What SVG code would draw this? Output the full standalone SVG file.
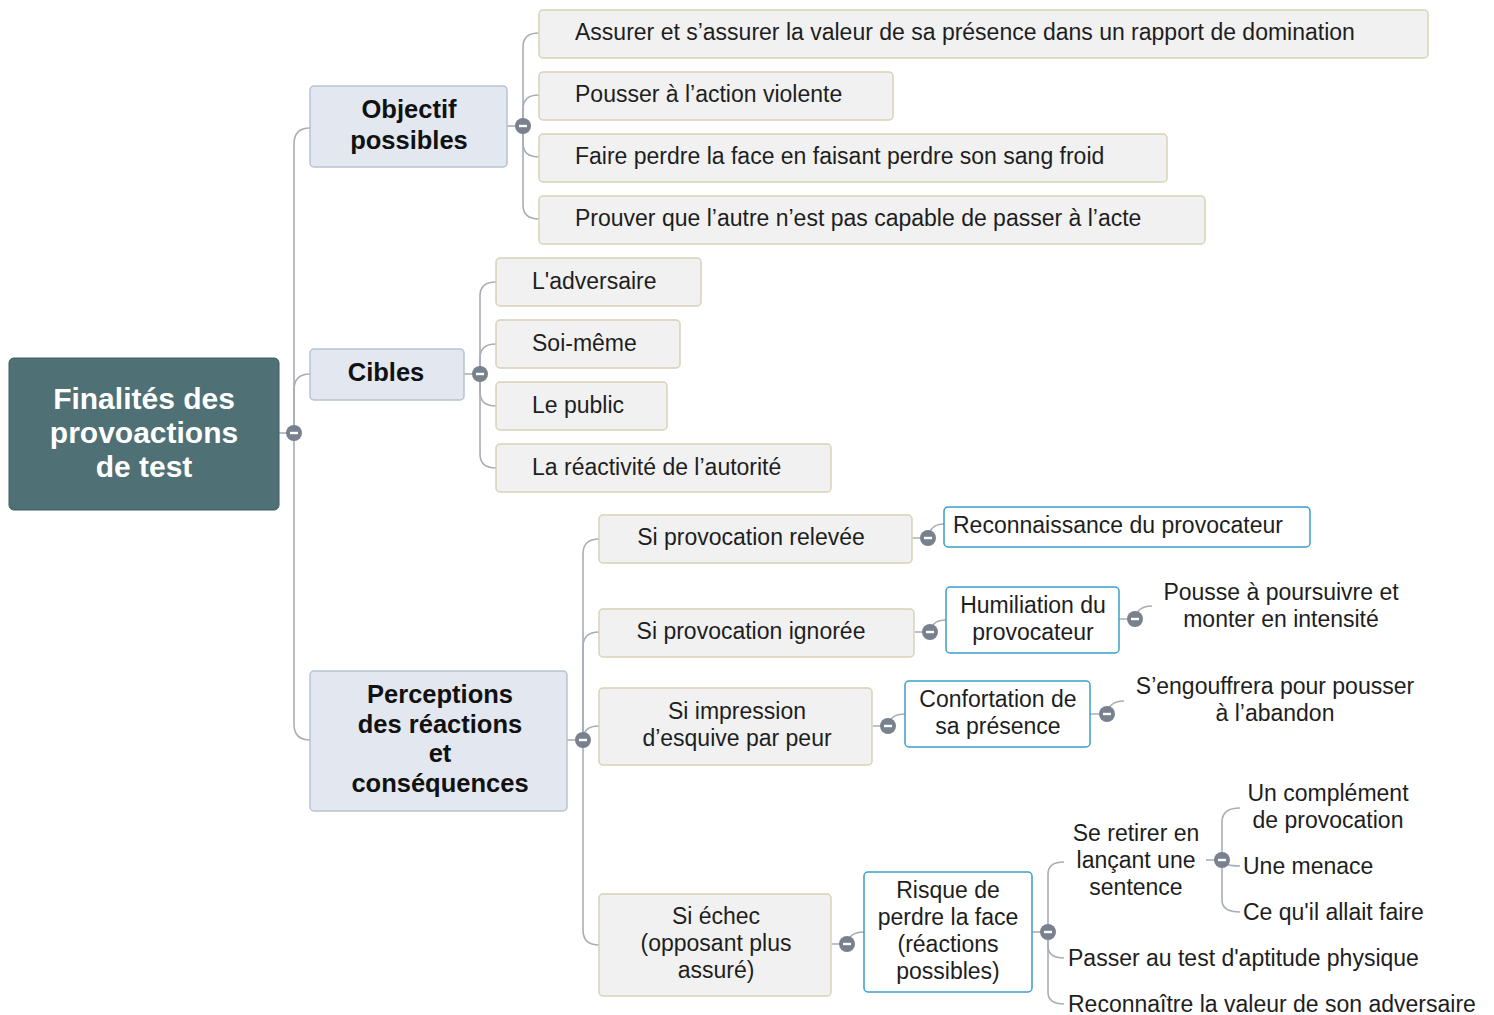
<svg xmlns="http://www.w3.org/2000/svg" width="1494" height="1015" viewBox="0 0 1494 1015">
<defs>
<style>
.root{fill:#4f7075;stroke:#3f5b60;stroke-width:1}
.main{fill:#e3e8f0;stroke:#b8c2cf;stroke-width:1.5}
.sub{fill:#f1f1f1;stroke:#d8d2b8;stroke-width:1.5}
.blue{fill:#ffffff;stroke:#3a9fc9;stroke-width:1.5}
.c{fill:none;stroke:#a9aeb6;stroke-width:1.6}
.t{font-family:"Liberation Sans",Arial,sans-serif;font-size:23px;fill:#1e1e1e}
.tm{font-family:"Liberation Sans",Arial,sans-serif;font-size:25.5px;font-weight:bold;fill:#111}
.tr{font-family:"Liberation Sans",Arial,sans-serif;font-size:30px;font-weight:bold;fill:#ffffff}
.mid{text-anchor:middle}
</style>
<g id="knob"><circle r="8" fill="#7a818e"/><rect x="-4" y="-1.2" width="8" height="2.4" fill="#ffffff"/></g>
</defs>
<rect width="1494" height="1015" fill="#ffffff"/>
<g id="connectors">
<path class="c" d="M279,433 H294"/>
<path class="c" d="M294,433 V144 Q294,128 310,128"/>
<path class="c" d="M294,433 V390 Q294,374 310,374"/>
<path class="c" d="M294,433 V724 Q294,740 310,740"/>
<path class="c" d="M507,126 H523"/>
<path class="c" d="M523,126 V47 Q523,33 539,33"/>
<path class="c" d="M523,126 V109 Q523,95 539,95"/>
<path class="c" d="M523,126 V143 Q523,157 539,157"/>
<path class="c" d="M523,126 V205 Q523,219 539,219"/>
<path class="c" d="M464,374 H480"/>
<path class="c" d="M480,374 V296 Q480,282 496,282"/>
<path class="c" d="M480,374 V358 Q480,344 496,344"/>
<path class="c" d="M480,374 V392 Q480,406 496,406"/>
<path class="c" d="M480,374 V454 Q480,468 496,468"/>
<path class="c" d="M567,740 H583"/>
<path class="c" d="M583,740 V554 Q583,539 599,539"/>
<path class="c" d="M583,740 V647 Q583,632 599,632"/>
<path class="c" d="M583,740 V740 Q583,726 599,726"/>
<path class="c" d="M583,740 V930 Q583,945 599,945"/>
<path class="c" d="M912,538 H928 Q930,524 944,524"/>
<path class="c" d="M915,632 H930 Q932,620 946,620"/>
<path class="c" d="M1119,619 H1135 Q1137,606 1152,606"/>
<path class="c" d="M873,726 H888 Q890,714 905,714"/>
<path class="c" d="M1090,714 H1107 Q1109,701 1124,701"/>
<path class="c" d="M832,944 H847 Q849,932 864,932"/>
<path class="c" d="M1032,932 H1048"/>
<path class="c" d="M1048,932 V874 Q1048,862 1064,862"/>
<path class="c" d="M1048,932 V946 Q1048,958 1064,958"/>
<path class="c" d="M1048,932 V992 Q1048,1004 1064,1004"/>
<path class="c" d="M1206,860 H1222"/>
<path class="c" d="M1222,860 V822 Q1222,808 1240,808"/>
<path class="c" d="M1222,860 Q1224,866 1240,866"/>
<path class="c" d="M1222,860 V900 Q1222,912 1240,912"/>
<use href="#knob" x="294" y="433"/>
<use href="#knob" x="523" y="126"/>
<use href="#knob" x="480" y="374"/>
<use href="#knob" x="583" y="740"/>
<use href="#knob" x="928" y="538"/>
<use href="#knob" x="930" y="632"/>
<use href="#knob" x="1135" y="619"/>
<use href="#knob" x="888" y="726"/>
<use href="#knob" x="1107" y="714"/>
<use href="#knob" x="847" y="944"/>
<use href="#knob" x="1048" y="932"/>
<use href="#knob" x="1222" y="860"/>
</g>
<g id="n-root"><rect class="root" x="9" y="358" width="270" height="152" rx="5"/>
<text class="tr mid" x="144" y="409">Finalités des</text><text class="tr mid" x="144" y="443">provoactions</text><text class="tr mid" x="144" y="477">de test</text></g>
<g id="n-objectif"><rect class="main" x="310" y="86" width="197" height="81" rx="4"/>
<text class="tm mid" x="409" y="118">Objectif</text><text class="tm mid" x="409" y="149">possibles</text></g>
<g id="n-o1"><rect class="sub" x="539" y="10" width="889" height="48" rx="4"/><text class="t" x="575" y="40">Assurer et s’assurer la valeur de sa présence dans un rapport de domination</text></g>
<g id="n-o2"><rect class="sub" x="539" y="72" width="354" height="48" rx="4"/><text class="t" x="575" y="102">Pousser à l’action violente</text></g>
<g id="n-o3"><rect class="sub" x="539" y="134" width="628" height="48" rx="4"/><text class="t" x="575" y="164">Faire perdre la face en faisant perdre son sang froid</text></g>
<g id="n-o4"><rect class="sub" x="539" y="196" width="666" height="48" rx="4"/><text class="t" x="575" y="226">Prouver que l’autre n’est pas capable de passer à l’acte</text></g>
<g id="n-cibles"><rect class="main" x="310" y="349" width="154" height="51" rx="4"/><text class="tm mid" x="386" y="381">Cibles</text></g>
<g id="n-c1"><rect class="sub" x="496" y="258" width="205" height="48" rx="4"/><text class="t" x="532" y="289">L'adversaire</text></g>
<g id="n-c2"><rect class="sub" x="496" y="320" width="184" height="48" rx="4"/><text class="t" x="532" y="351">Soi-même</text></g>
<g id="n-c3"><rect class="sub" x="496" y="382" width="171" height="48" rx="4"/><text class="t" x="532" y="413">Le public</text></g>
<g id="n-c4"><rect class="sub" x="496" y="444" width="335" height="48" rx="4"/><text class="t" x="532" y="475">La réactivité de l’autorité</text></g>
<g id="n-perc"><rect class="main" x="310" y="671" width="257" height="140" rx="4"/>
<text class="tm mid" x="440" y="703">Perceptions</text><text class="tm mid" x="440" y="733">des réactions</text><text class="tm mid" x="440" y="762">et</text><text class="tm mid" x="440" y="792">conséquences</text></g>
<g id="n-p1"><rect class="sub" x="599" y="515" width="313" height="48" rx="4"/><text class="t mid" x="751" y="545">Si provocation relevée</text></g>
<g id="n-p2"><rect class="sub" x="599" y="609" width="315" height="48" rx="4"/><text class="t mid" x="751" y="639">Si provocation ignorée</text></g>
<g id="n-p3"><rect class="sub" x="599" y="688" width="273" height="77" rx="4"/><text class="t mid" x="737" y="719">Si impression</text><text class="t mid" x="737" y="746">d’esquive par peur</text></g>
<g id="n-p4"><rect class="sub" x="599" y="894" width="232" height="102" rx="4"/><text class="t mid" x="716" y="924">Si échec</text><text class="t mid" x="716" y="951">(opposant plus</text><text class="t mid" x="716" y="978">assuré)</text></g>
<g id="n-reco"><rect class="blue" x="944" y="507" width="366" height="40" rx="4"/><text class="t" x="953" y="533">Reconnaissance du provocateur</text></g>
<g id="n-humil"><rect class="blue" x="946" y="587" width="173" height="66" rx="4"/><text class="t mid" x="1033" y="613">Humiliation du</text><text class="t mid" x="1033" y="640">provocateur</text></g>
<g id="n-pousse"><text class="t mid" x="1281" y="600">Pousse à poursuivre et</text><text class="t mid" x="1281" y="627">monter en intensité</text></g>
<g id="n-confort"><rect class="blue" x="905" y="681" width="185" height="66" rx="4"/><text class="t mid" x="998" y="707">Confortation de</text><text class="t mid" x="998" y="734">sa présence</text></g>
<g id="n-engouf"><text class="t mid" x="1275" y="694">S’engouffrera pour pousser</text><text class="t mid" x="1275" y="721">à l’abandon</text></g>
<g id="n-risque"><rect class="blue" x="864" y="872" width="168" height="120" rx="4"/><text class="t mid" x="948" y="898">Risque de</text><text class="t mid" x="948" y="925">perdre la face</text><text class="t mid" x="948" y="952">(réactions</text><text class="t mid" x="948" y="979">possibles)</text></g>
<g id="n-retirer"><text class="t mid" x="1136" y="841">Se retirer en</text><text class="t mid" x="1136" y="868">lançant une</text><text class="t mid" x="1136" y="895">sentence</text></g>
<g id="n-passer"><text class="t" x="1068" y="966">Passer au test d'aptitude physique</text></g>
<g id="n-reconn"><text class="t" x="1068" y="1012">Reconnaître la valeur de son adversaire</text></g>
<g id="n-compl"><text class="t mid" x="1328" y="801">Un complément</text><text class="t mid" x="1328" y="828">de provocation</text></g>
<g id="n-menace"><text class="t" x="1243" y="874">Une menace</text></g>
<g id="n-cequ"><text class="t" x="1243" y="920">Ce qu'il allait faire</text></g>
</svg>
